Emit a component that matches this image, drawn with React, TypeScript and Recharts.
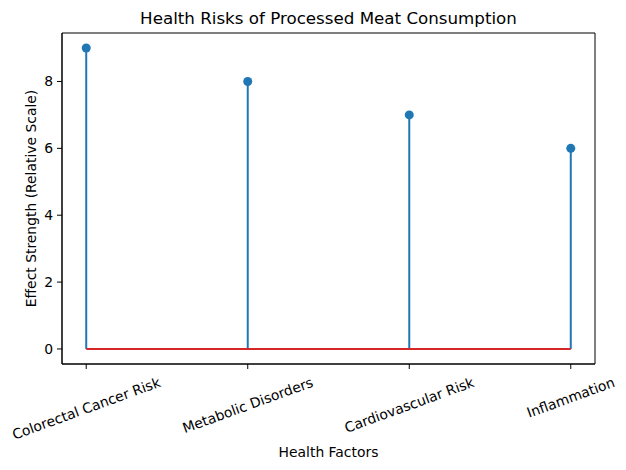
import { ComposedChart, Scatter, XAxis, YAxis, ReferenceLine, ReferenceArea, Label } from 'recharts';

const categories = ['Colorectal Cancer Risk', 'Metabolic Disorders', 'Cardiovascular Risk', 'Inflammation'];
const effectStrength = [9, 8, 7, 6];
const yTicks = [0, 2, 4, 6, 8];
const xTicks = [0, 1, 2, 3];

const data = categories.map((name, i) => ({ x: i, y: effectStrength[i], name }));

const FONT = '"DejaVu Sans", sans-serif';
const BLUE = '#1f77b4';
const RED = '#d62728';

let ctx: CanvasRenderingContext2D | null = null;
function measure(text: string, size: number) {
  if (!ctx) ctx = document.createElement('canvas').getContext('2d');
  if (!ctx) return text.length * size * 0.6;
  ctx.font = `${size}px "DejaVu Sans"`;
  return ctx.measureText(text).width;
}

const XTick = (props: any) => {
  const { x, y, payload } = props;
  const label = categories[payload.value] ?? '';
  const w = measure(label, 13.9);
  const a = (20 * Math.PI) / 180;
  const h = w * Math.sin(a) + 16 * Math.cos(a);
  const cy = y + h / 2;
  return (
    <text
      x={x}
      y={cy}
      textAnchor="middle"
      dominantBaseline="central"
      fontSize={13.9}
      fontFamily={FONT}
      fill="#000"
      transform={`rotate(-20, ${x}, ${cy})`}
    >
      {label}
    </text>
  );
};

export default function App() {
  return (
    <div style={{ position: 'relative', width: 626, height: 470, background: '#fff' }}>
      <style>{`body{margin:0}`}</style>
      <div
        style={{
          position: 'absolute',
          top: 7,
          left: 62,
          width: 533,
          textAlign: 'center',
          fontFamily: FONT,
          fontSize: 16.7,
          lineHeight: '22px',
          color: '#000',
        }}
      >
        Health Risks of Processed Meat Consumption
      </div>
      <ComposedChart width={626} height={470} data={data} margin={{ top: 33, right: 31, left: 0, bottom: 0 }}>
        <XAxis
          dataKey="x"
          type="number"
          domain={[-0.15, 3.15]}
          ticks={xTicks}
          allowDataOverflow
          height={106}
          tick={<XTick />}
          tickSize={5}
          tickMargin={5}
          tickLine={{ stroke: '#000' }}
          axisLine={{ stroke: '#000' }}
        >
          <Label
            content={({ viewBox }: any) => (
              <text
                x={viewBox.x + viewBox.width / 2}
                y={452}
                textAnchor="middle"
                dominantBaseline="central"
                fontSize={13.9}
                fontFamily={FONT}
                fill="#000"
              >
                Health Factors
              </text>
            )}
          />
        </XAxis>
        <YAxis
          dataKey="y"
          type="number"
          domain={[-0.45, 9.45]}
          ticks={yTicks}
          allowDataOverflow
          width={62}
          tickSize={5}
          tickMargin={4}
          tick={{ fontSize: 13.9, fontFamily: FONT, fill: '#000' }}
          tickLine={{ stroke: '#000' }}
          axisLine={{ stroke: '#000' }}
        >
          <Label
            content={({ viewBox }: any) => {
              const cy = viewBox.y + viewBox.height / 2;
              return (
                <text
                  x={31}
                  y={cy}
                  textAnchor="middle"
                  dominantBaseline="central"
                  fontSize={13.9}
                  fontFamily={FONT}
                  fill="#000"
                  transform={`rotate(-90, 31, ${cy})`}
                >
                  Effect Strength (Relative Scale)
                </text>
              );
            }}
          />
        </YAxis>
        <ReferenceArea x1={-0.15} x2={3.15} y1={-0.45} y2={9.45} fill="none" stroke="#000" strokeWidth={1} ifOverflow="visible" />
        {data.map((d) => (
          <ReferenceLine
            key={d.name}
            segment={[
              { x: d.x, y: 0 },
              { x: d.x, y: d.y },
            ]}
            stroke={BLUE}
            strokeWidth={2}
          />
        ))}
        <ReferenceLine
          segment={[
            { x: 0, y: 0 },
            { x: 3, y: 0 },
          ]}
          stroke={RED}
          strokeWidth={2}
        />
        <Scatter
          dataKey="y"
          isAnimationActive={false}
          shape={(p: any) => <circle cx={p.cx} cy={p.cy} r={4.5} fill={BLUE} />}
        />
      </ComposedChart>
    </div>
  );
}
